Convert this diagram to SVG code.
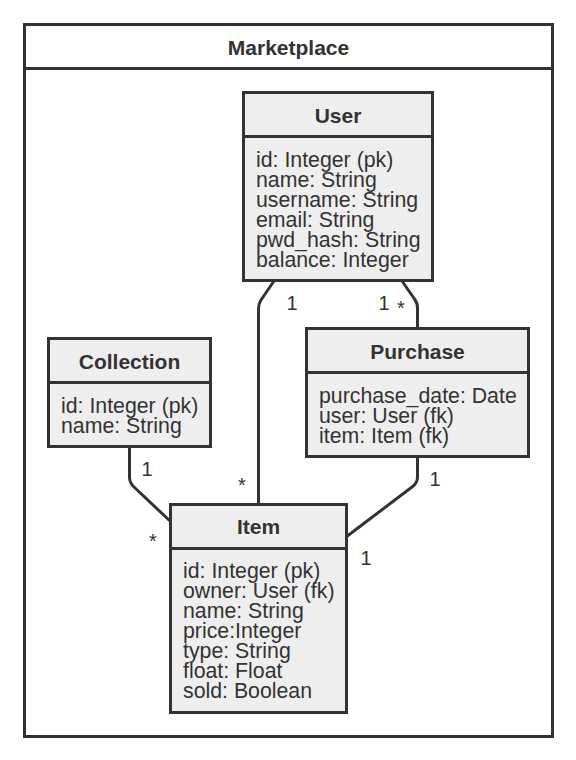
<svg xmlns="http://www.w3.org/2000/svg" width="576" height="760" viewBox="0 0 576 760">
<style>
.box{fill:#eeeeee;stroke:#333333;stroke-width:3}
.frame{fill:#ffffff;stroke:#333333;stroke-width:3}
.div{stroke:#333333;stroke-width:3;fill:none}
.title{font-family:"Liberation Sans",Arial,sans-serif;font-size:21px;font-weight:bold;fill:#333333;text-anchor:middle}
.attr{font-family:"Liberation Sans",Arial,sans-serif;font-size:21.3px;fill:#333333}
.lbl{font-family:"Liberation Sans",Arial,sans-serif;font-size:20px;fill:#333333;text-anchor:middle}
.conn{fill:none;stroke:#333333;stroke-width:3;stroke-linejoin:round}
</style>
<rect width="576" height="760" fill="#ffffff"/>
<g id="marketplace">
<rect class="frame" x="24.5" y="24.5" width="528" height="712"/>
<line class="div" x1="24.5" y1="68.5" x2="552.5" y2="68.5"/>
<text class="title" x="288.5" y="55">Marketplace</text>
</g>
<g id="connectors">
<path class="conn" d="M274,281 L261,300 Q258.5,304 258.5,309 L258.5,504"/>
<path class="conn" d="M402,281 L414.5,299 Q417.5,303 417.5,308 L417.5,328"/>
<path class="conn" d="M129.5,446 L129.5,477 Q129.5,483 134,487 L170,521"/>
<path class="conn" d="M417.5,456 L417.5,477 Q417.5,483 412,487 L346,537"/>
<text class="lbl" x="292" y="310">1</text>
<text class="lbl" x="242" y="492">*</text>
<text class="lbl" x="384" y="310">1</text>
<text class="lbl" x="401" y="315">*</text>
<text class="lbl" x="147" y="476">1</text>
<text class="lbl" x="153" y="548">*</text>
<text class="lbl" x="435" y="486">1</text>
<text class="lbl" x="366" y="565">1</text>
</g>
<g id="user">
<rect class="box" x="243.5" y="92.5" width="189" height="188"/>
<line class="div" x1="243.5" y1="136.5" x2="432.5" y2="136.5"/>
<text class="title" x="338" y="123">User</text>
<text class="attr" x="256" y="167">id: Integer (pk)</text>
<text class="attr" x="256" y="187">name: String</text>
<text class="attr" x="256" y="207">username: String</text>
<text class="attr" x="256" y="227">email: String</text>
<text class="attr" x="256" y="247">pwd_hash: String</text>
<text class="attr" x="256" y="267">balance: Integer</text>
</g>
<g id="collection">
<rect class="box" x="48.5" y="338.5" width="162" height="108"/>
<line class="div" x1="48.5" y1="382.5" x2="210.5" y2="382.5"/>
<text class="title" x="129.5" y="369">Collection</text>
<text class="attr" x="61" y="413">id: Integer (pk)</text>
<text class="attr" x="61" y="433">name: String</text>
</g>
<g id="purchase">
<rect class="box" x="306.5" y="328.5" width="222" height="128"/>
<line class="div" x1="306.5" y1="372.5" x2="528.5" y2="372.5"/>
<text class="title" x="417.5" y="359">Purchase</text>
<text class="attr" x="319" y="403">purchase_date: Date</text>
<text class="attr" x="319" y="423">user: User (fk)</text>
<text class="attr" x="319" y="443">item: Item (fk)</text>
</g>
<g id="item">
<rect class="box" x="170.5" y="504.5" width="176" height="208"/>
<line class="div" x1="170.5" y1="548.5" x2="346.5" y2="548.5"/>
<text class="title" x="258.5" y="534">Item</text>
<text class="attr" x="183" y="578">id: Integer (pk)</text>
<text class="attr" x="183" y="598">owner: User (fk)</text>
<text class="attr" x="183" y="618">name: String</text>
<text class="attr" x="183" y="638">price:Integer</text>
<text class="attr" x="183" y="658">type: String</text>
<text class="attr" x="183" y="678">float: Float</text>
<text class="attr" x="183" y="698">sold: Boolean</text>
</g>
</svg>
